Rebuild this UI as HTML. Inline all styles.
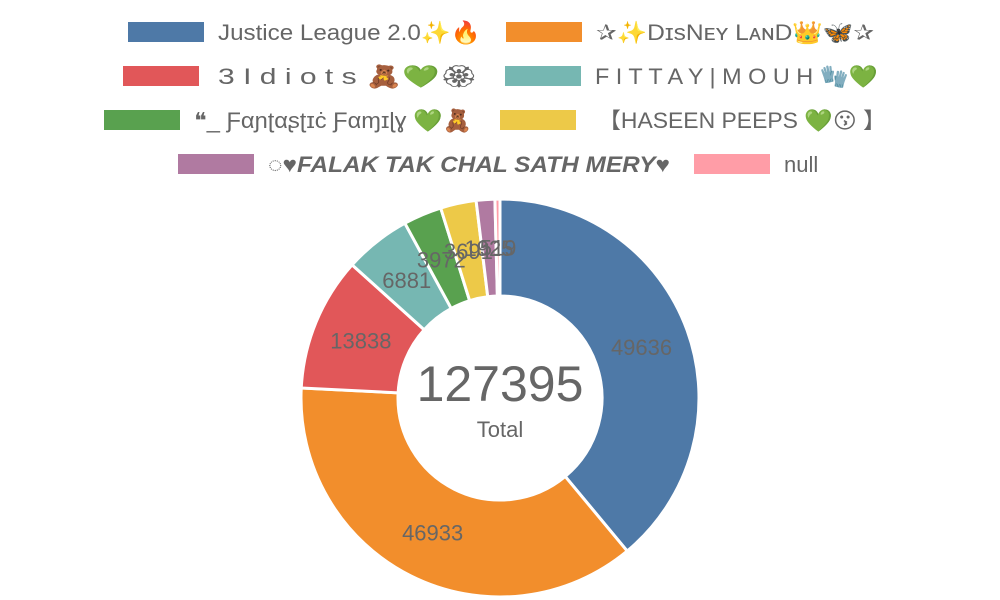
<!DOCTYPE html>
<html><head><meta charset="utf-8"><style>
body{margin:0;background:#fff;}
svg{display:block;font-family:"Liberation Sans","DejaVu Sans","Noto Sans CJK SC",sans-serif;}
</style></head><body>
<svg id="c" width="1000" height="600">
<g id="legend" fill="#666" font-size="22">
<g><rect x="128" y="22" width="76" height="20" fill="#4e79a7"/><text x="218" y="40" textLength="263" lengthAdjust="spacingAndGlyphs">Justice League 2.0✨🔥</text></g>
<g><rect x="506" y="22" width="76" height="20" fill="#f28e2c"/><text x="596" y="40" textLength="278" lengthAdjust="spacingAndGlyphs">✰✨DɪsNᴇʏ LᴀɴD👑🦋✰</text></g>
<g><rect x="123" y="66" width="76" height="20" fill="#e15759"/><text x="218" y="84" textLength="260" lengthAdjust="spacingAndGlyphs">3 I d i o t s 🧸💚🏵</text></g>
<g><rect x="505" y="66" width="76" height="20" fill="#76b7b2"/><text x="595" y="84" textLength="283" lengthAdjust="spacingAndGlyphs">F I T T A Y | M O U H 🧤💚</text></g>
<g><rect x="104" y="110" width="76" height="20" fill="#59a14f"/><text x="194" y="128" textLength="278" lengthAdjust="spacingAndGlyphs">❝_ Ƒαɲʈαʂʈɪċ Ƒαɱɪɭɣ 💚🧸</text></g>
<g><rect x="500" y="110" width="76" height="20" fill="#edc948"/><text x="598" y="128" textLength="288" lengthAdjust="spacingAndGlyphs">【HASEEN PEEPS 💚😗 】</text></g>
<g><rect x="178" y="154" width="76" height="20" fill="#b07aa1"/><text x="268" y="172" textLength="402" lengthAdjust="spacingAndGlyphs" font-style="italic" font-weight="bold">◌♥FALAK TAK CHAL SATH MERY♥</text></g>
<g><rect x="694" y="154" width="76" height="20" fill="#ff9da7"/><text x="784" y="172">null</text></g>
</g>
<g id="slices"></g>
<g id="labels" fill="#666" font-size="22" text-anchor="middle"></g>
<text x="500" y="401" text-anchor="middle" font-size="50" fill="#666">127395</text>
<text x="500" y="437" text-anchor="middle" font-size="22" fill="#666">Total</text>
</svg>
<script>
const categories=["Justice League","Disney Land","3 Idiots","FITTAY MOUH","Fantastic Family","HASEEN PEEPS","FALAK TAK","null"];
const values=[49636,46933,13838,6881,3972,3691,1925,519];
const colors=["#4e79a7","#f28e2c","#e15759","#76b7b2","#59a14f","#edc948","#b07aa1","#ff9da7"];
const cx=500,cy=398,R=199,r=102;
const total=values.reduce((a,b)=>a+b,0);
const ns="http://www.w3.org/2000/svg";
const sg=document.getElementById('slices'),lg=document.getElementById('labels');
function pt(a,rad){return [cx+rad*Math.sin(a),cy-rad*Math.cos(a)];}
let a0=0;
values.forEach((v,i)=>{
 const a1=a0+v/total*2*Math.PI;
 const large=(a1-a0)>Math.PI?1:0;
 const [x1,y1]=pt(a0,R),[x2,y2]=pt(a1,R),[x3,y3]=pt(a1,r),[x4,y4]=pt(a0,r);
 const p=document.createElementNS(ns,'path');
 p.setAttribute('d',`M${x1},${y1}A${R},${R} 0 ${large} 1 ${x2},${y2}L${x3},${y3}A${r},${r} 0 ${large} 0 ${x4},${y4}Z`);
 p.setAttribute('fill',colors[i]);p.setAttribute('stroke','#fff');p.setAttribute('stroke-width','3');
 
 
 sg.appendChild(p);
 const [lx,ly]=pt((a0+a1)/2,(R+r)/2);
 const t=document.createElementNS(ns,'text');
 t.setAttribute('x',lx);t.setAttribute('y',ly+8);t.textContent=v;
 
 
 lg.appendChild(t);
 a0=a1;
});
</script>
</body></html>
